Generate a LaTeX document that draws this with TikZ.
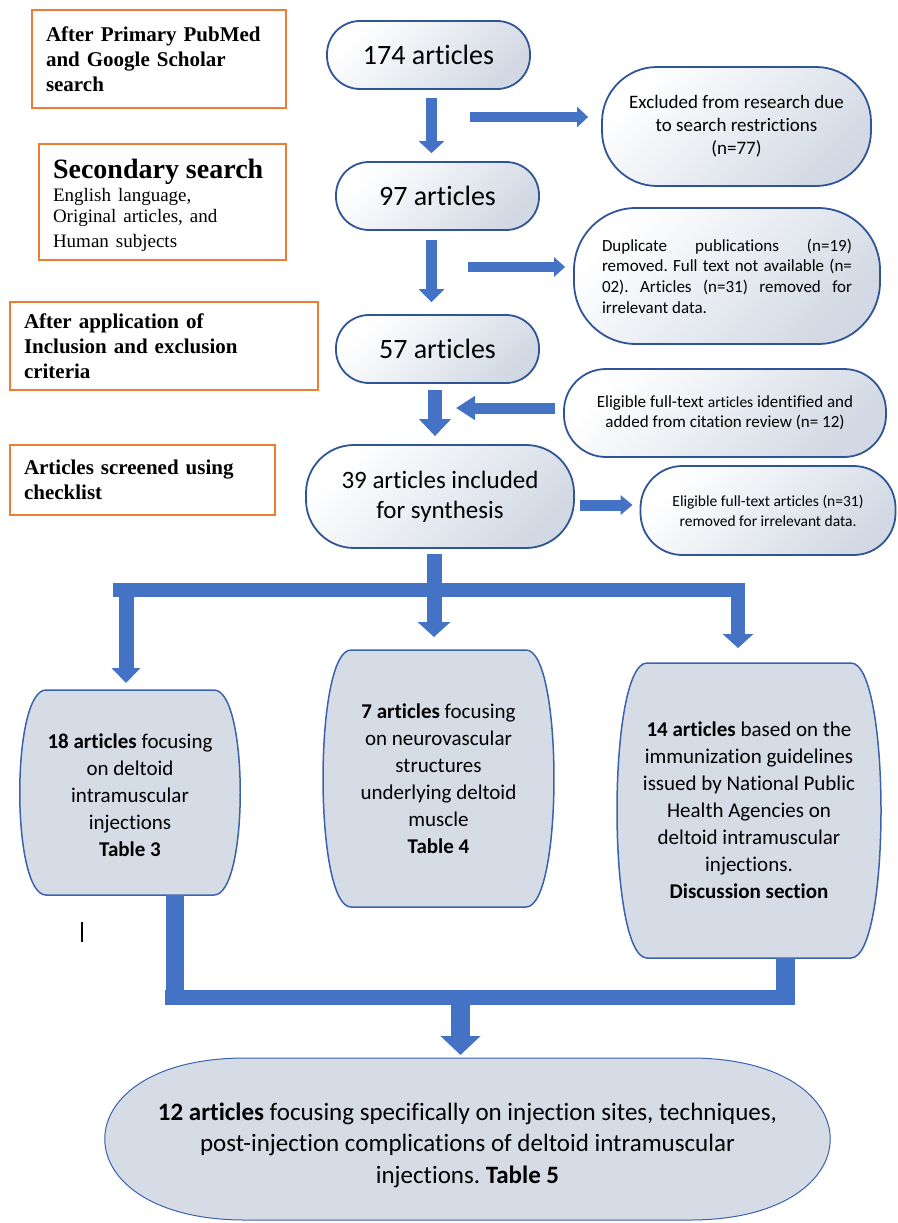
\documentclass[tikz,border=0pt]{standalone}
\usepackage{fontspec}
\setmainfont{Carlito}[Ligatures=CommonOff]
\newfontfamily\tms{Liberation Serif}
\usetikzlibrary{arrows.meta,calc,backgrounds}
\definecolor{obox}{HTML}{ED7D31}
\definecolor{ablue}{HTML}{4472C4}
\definecolor{bord}{HTML}{2F5597}
\definecolor{lowfill}{HTML}{D6DCE5}
\definecolor{lowbord}{HTML}{3A62AE}
\definecolor{gradend}{HTML}{D2D9E4}
% #1 node, #2 corner inset, #3 side bulge, #4 top offset, #5 bottom offset
\newcommand\barrelbox[5]{\draw[lowbox] ($(#1.north west)+(#2,#4)$) -- ($(#1.north east)+(-#2,#4)$) .. controls ($(#1.north east)+(#3,#4)$) and ($(#1.south east)+(#3,#5)$) .. ($(#1.south east)+(-#2,#5)$) -- ($(#1.south west)+(#2,#5)$) .. controls ($(#1.south west)+(-#3,#5)$) and ($(#1.north west)+(-#3,#4)$) .. cycle;}
\frenchspacing
\begin{document}
\begin{tikzpicture}[x=1pt,y=-1pt,
  ornode/.style={draw=obox, line width=2.5pt, align=left, inner xsep=14pt, inner ysep=0pt, font=\tms\bfseries\fontsize{21}{25}\selectfont},
  topbox/.style={draw=bord, line width=1.8pt, top color=white, bottom color=gradend, shading angle=45, align=center, inner sep=2pt},
  lowbox/.style={draw=lowbord, line width=1.5pt, fill=lowfill},
  lowtext/.style={align=center, font=\fontsize{21}{27}\selectfont, outer sep=0pt, inner sep=0pt},
  blockarrow/.style n args={3}{draw=ablue, line width=#1, -{Triangle[length=#2,width=#3]}},
  shaft/.style={draw=ablue, line width=#1},
]
\useasboundingbox (0,0) rectangle (897,1223);

% orange label boxes
\node[ornode, minimum width=254, minimum height=98, text width=226] (o1) at (159,59) {After Primary PubMed\\and Google Scholar\\search};
\node[ornode, minimum width=247, minimum height=116, text width=219] (o2) at (162.5,202) {{\fontsize{28}{30}\selectfont\rule{0pt}{27pt}Secondary search\par}\vspace{2pt}\mdseries\fontsize{19}{21}\selectfont English language,\\Original articles, and\\Human subjects};
\node[ornode, minimum width=308, minimum height=88, text width=280] (o3) at (164,346) {After application of\\Inclusion and exclusion\\criteria};
\node[ornode, minimum width=265, minimum height=70, text width=237] (o4) at (142.5,480) {Articles screened using\\checklist};

% main column
\node[topbox, minimum width=203, minimum height=68, rounded corners=33, font=\fontsize{28}{32}\selectfont] (n174) at (428.5,55) {174 articles};
\node[topbox, minimum width=203, minimum height=68, rounded corners=33, font=\fontsize{28}{32}\selectfont] (n97) at (437.5,196) {97 articles};
\node[topbox, minimum width=203, minimum height=68, rounded corners=33, font=\fontsize{28}{32}\selectfont] (n57) at (437.5,349) {57 articles};
\node[topbox, minimum width=268, minimum height=103, rounded corners=48, font=\fontsize{25}{30}\selectfont] (n39) at (440,496.5) {39 articles included\\for synthesis};

% side boxes
\node[topbox, minimum width=269, minimum height=119, rounded corners=55, font=\fontsize{19}{23}\selectfont] (ex1) at (736.5,126.5) {Excluded from research due\\to search restrictions\\(n=77)};
\node[topbox, minimum width=306, minimum height=136, rounded corners=62, font=\fontsize{17}{20.7}\selectfont, text width=250, align=justify] (ex2) at (727,276) {Duplicate publications (n=19)\linebreak removed. Full text not available (n=\linebreak 02). Articles (n=31) removed for\linebreak irrelevant data.};
\node[topbox, minimum width=322, minimum height=88, rounded corners=42, font=\fontsize{17}{20.5}\selectfont] (elig) at (725,413) {Eligible full-text {\fontsize{15.5}{20.5}\selectfont articles} identified and\\added from citation review (n= 12)};
\node[topbox, minimum width=255, minimum height=89, rounded corners=42, font=\fontsize{15.5}{20}\selectfont] (ex3) at (768,510.5) {Eligible full-text articles (n=31)\\removed for irrelevant data.};

% lower boxes (text nodes; shapes drawn behind)
\node[lowtext, minimum width=220, minimum height=205] (b18) at (130,795.5) {\textbf{18 articles} focusing\\on deltoid\\intramuscular\\injections\\\textbf{Table 3}};
\node[lowtext, minimum width=231, minimum height=257] (b7) at (438.5,778.5) {\textbf{7 articles} focusing\\on neurovascular\\structures\\underlying deltoid\\muscle\\\textbf{Table 4}};
\node[lowtext, minimum width=264, minimum height=295] (b14) at (749,810.5) {\textbf{14 articles} based on the\\immunization guidelines\\issued by National Public\\Health Agencies on\\deltoid intramuscular\\injections.\\\textbf{Discussion section}};
\node[lowtext, minimum width=725, minimum height=162, font=\fontsize{25}{31.5}\selectfont] (bot) at (467.5,1145) {\textbf{12 articles} focusing specifically on injection sites, techniques,\\post-injection complications of deltoid intramuscular\\injections. \textbf{Table 5}};

\begin{scope}[on background layer]
  \barrelbox{b18}{26}{9}{-3}{-3}
  \barrelbox{b7}{28}{9.3}{0}{0}
  \barrelbox{b14}{30}{10}{0}{0}
  \begin{scope}[lowbox/.append style={line width=1pt}]
    \barrelbox{bot}{140}{47}{-6}{-6}
  \end{scope}
\end{scope}

% connectors, upper part
\draw[blockarrow={11pt}{12pt}{25pt}] ($(n174.south)+(3,8)$) -- ($(n97.north)+(-6,-8)$);
\draw[blockarrow={11pt}{13pt}{25pt}] ($(n97.south)+(-6,9)$) -- ($(n57.north)+(-6,-12)$);
\draw[blockarrow={14pt}{17pt}{31pt}] ($(n57.south)+(-2.5,6)$) -- ($(n39.north)+(-5,-8)$);
\coordinate (r1) at (470,117);
\draw[blockarrow={10pt}{11pt}{20pt}] (r1) -- ($(r1 -| ex1.west)+(-13,0)$);
\coordinate (r2) at (468,267);
\draw[blockarrow={10pt}{11pt}{19pt}] (r2) -- ($(r2 -| ex2.west)+(-8,0)$);
\coordinate (l1) at (456,408);
\draw[blockarrow={11pt}{19pt}{23pt}] ($(elig.west)+(-8,-5)$) -- (l1);
\draw[blockarrow={11pt}{12pt}{19pt}] ($(n39.east)+(5,8.5)$) -- ($(ex3.west)+(-7,-5.5)$);

% split to three groups
\coordinate (bL) at (113,590);
\coordinate (bR) at (745,590);
\draw[shaft=14pt] (bL) -- (bR);
\draw[blockarrow={15pt}{15pt}{32pt}] ($(n39.south)+(-6,5)$) -- ($(b7.north)+(-4.5,-13)$);
\coordinate (dL) at (126,583);
\draw[blockarrow={15pt}{15pt}{28pt}] (dL) -- ($(dL |- b18.north)+(0,-10)$);
\coordinate (dR) at (738,583);
\draw[blockarrow={14pt}{14pt}{30pt}] (dR) -- ($(dR |- b14.north)+(0,-15)$);

% merge to final box
\coordinate (jL) at (175,1005);
\draw[shaft=18pt] ($(b18.south -| jL)+(0,-3)$) -- (jL);
\coordinate (jR) at (785.5,1005);
\draw[shaft=19pt] (b14.south -| jR) -- (jR);
\coordinate (cL) at (165,997.5);
\coordinate (cR) at (795,997.5);
\draw[shaft=15pt] (cL) -- (cR);
\coordinate (cM) at (460.5,990);
\draw[blockarrow={19pt}{19pt}{39pt}] (cM) -- ($(cM |- bot.north)+(0,-9)$);

% stray cursor mark
\draw[line width=1.2pt] (82,922) -- (82,942);
\end{tikzpicture}
\end{document}
